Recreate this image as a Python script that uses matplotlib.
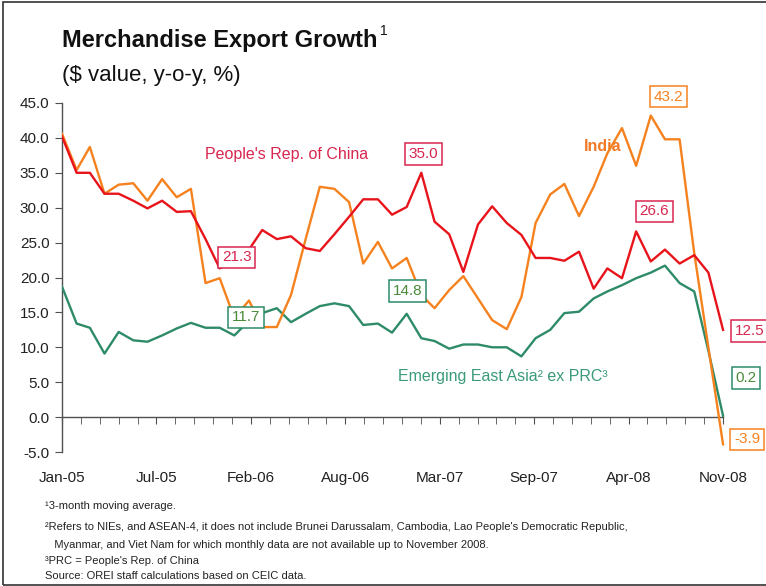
import numpy as np
import pandas as pd
import matplotlib
matplotlib.use('Agg')
import matplotlib.pyplot as plt
import matplotlib.dates as mdates
import matplotlib.ticker as mticker
from matplotlib import font_manager
from matplotlib.patches import Rectangle

names = set(f.name for f in font_manager.fontManager.ttflist)
narrow = 'Liberation Sans Narrow' if 'Liberation Sans Narrow' in names else 'Liberation Sans'
plt.rcParams['font.family'] = ['Liberation Sans', 'DejaVu Sans']
plt.rcParams['axes.unicode_minus'] = False

# monthly data, Jan-05 .. Nov-08 (3-month moving average, %)
months = pd.date_range('2005-01-01', periods=47, freq='MS')
china = [40.2, 35.0, 35.0, 32.0, 32.0, 31.0, 29.9, 31.0, 29.4, 29.5,
         25.5, 21.3, 22.5, 24.0, 26.8, 25.5, 25.9, 24.2, 23.8, 26.2,
         28.7, 31.2, 31.2, 29.0, 30.1, 35.0, 28.0, 26.2, 20.8, 27.6,
         30.2, 27.8, 26.1, 22.8, 22.8, 22.4, 23.7, 18.4, 21.3, 19.9,
         26.6, 22.3, 24.0, 22.0, 23.2, 20.7, 12.5]
india = [40.6, 35.4, 38.7, 32.0, 33.3, 33.5, 31.0, 34.1, 31.5, 32.7,
         19.2, 19.9, 14.2, 16.7, 12.9, 12.9, 17.5, 25.5, 33.0, 32.7,
         30.8, 22.0, 25.1, 21.3, 22.8, 17.5, 15.6, 18.2, 20.2, 17.0,
         13.9, 12.6, 17.2, 27.8, 31.9, 33.4, 28.8, 33.0, 37.8, 41.4,
         36.0, 43.2, 39.8, 39.8, 23.5, 10.0, -3.9]
eea = [18.7, 13.4, 12.8, 9.1, 12.2, 11.0, 10.8, 11.7, 12.7, 13.5,
       12.8, 12.8, 11.7, 13.8, 14.9, 15.6, 13.6, 14.8, 15.9, 16.3,
       15.9, 13.2, 13.4, 12.1, 14.8, 11.3, 10.9, 9.8, 10.4, 10.4,
       10.0, 10.0, 8.7, 11.3, 12.5, 14.9, 15.1, 17.0, 18.0, 18.9,
       19.9, 20.7, 21.7, 19.2, 18.0, 9.5, 0.2]

# labelled points: (month index, offset x, offset y in pixels)
china_labels = [(11, 17, 11), (25, 2, 19), (40, 18, 20), (46, 27, -1)]
india_labels = [(41, 18, 19), (46, 24, 5)]
eea_labels = [(12, 12, 18), (24, 1, 23), (46, 23, 38)]

c_red = '#E8141C'
c_org = '#F5821F'
c_grn = '#2E8B68'

fig = plt.figure(figsize=(7.66, 5.86), dpi=100)
ax = fig.add_axes([62/766, 1-452/586, 1-62/766, 349/586])

ax.plot(months, eea, color=c_grn, lw=1.7, zorder=3)
ax.plot(months, india, color=c_org, lw=1.7, zorder=4)
ax.plot(months, china, color=c_red, lw=1.7, zorder=5)

start = months[0]
ax.set_xlim(start, start + pd.Timedelta(days=1491))
ax.set_ylim(-5, 45)

ax.spines['top'].set_visible(False)
ax.spines['right'].set_visible(False)
ax.spines['bottom'].set_position(('data', 0))
ax.spines['bottom'].set_bounds(mdates.date2num(start), mdates.date2num(start + pd.Timedelta(days=1400)))
ax.spines['left'].set_bounds(-5, 45)
for s in ['bottom', 'left']:
    ax.spines[s].set_color('#505050')
    ax.spines[s].set_linewidth(1.0)

# date axis: labels every 200 days, tick marks every 40 days
major = [start + pd.Timedelta(days=200*k) for k in range(8)]
minor = [start + pd.Timedelta(days=40*k) for k in range(36)]
ax.set_xticks(major)
ax.set_xticks(minor, minor=True)
ax.xaxis.set_major_formatter(mdates.DateFormatter('%b-%y'))
ax.tick_params(axis='x', which='both', direction='out', length=5, color='#505050')
ax.tick_params(axis='x', which='major', pad=34, labelsize=11, labelcolor='#222222')
ax.set_yticks(np.arange(-5, 50, 5))
ax.yaxis.set_major_formatter(mticker.FormatStrFormatter('%.1f'))
ax.tick_params(axis='y', direction='out', length=5, color='#505050', labelsize=11, labelcolor='#222222', pad=4)

def box_label(series, items, tcol, ecol):
    for i, dx, dy in items:
        ax.annotate('%.1f' % series[i], xy=(months[i], series[i]), xytext=(dx, dy),
                    textcoords='offset pixels', ha='center', va='center', fontsize=11,
                    color=tcol, annotation_clip=False, zorder=6,
                    bbox=dict(boxstyle='square,pad=0.25', fc='white', ec=ecol, lw=1.1))

box_label(china, china_labels, '#D8264F', '#D8264F')
box_label(india, india_labels, c_org, c_org)
box_label(eea, eea_labels, '#4A8A3A', c_grn)

ax.text(0.203, 0.853, "People's Rep. of China", transform=ax.transAxes, color='#D8264F', fontsize=11.5, ha='left', va='center')
ax.text(0.768, 0.876, 'India', transform=ax.transAxes, color='#F07A28', fontsize=11.5, fontweight='bold', ha='center', va='center')
ax.text(0.477, 0.216, 'Emerging East Asia² ex PRC³', transform=ax.transAxes, color='#3A9A7A', fontsize=11.5, ha='left', va='center')

# titles
fig.text(62/766, 1-40/586, 'Merchandise Export Growth', fontsize=17, fontweight='bold', va='center', color='#111111')
fig.text(380/766, 1-31/586, '1', fontsize=10, va='center', color='#111111')
fig.text(62/766, 1-76/586, '($ value, y-o-y, %)', fontsize=16, va='center', color='#111111')

notes = ['¹3-month moving average.',
         '²Refers to NIEs, and ASEAN-4, it does not include Brunei Darussalam, Cambodia, Lao People\'s Democratic Republic,',
         '   Myanmar, and Viet Nam for which monthly data are not available up to November 2008.',
         '³PRC = People\'s Rep. of China',
         'Source: OREI staff calculations based on CEIC data.']
note_y = [506, 527, 545, 561, 576]
for t, y in zip(notes, note_y):
    fig.text(45/766, 1-y/586, t, fontsize=8, family=narrow, va='center', color='#222222')

fig.patches.append(Rectangle((3/766, 1/586), 1.2, 1-3/586, transform=fig.transFigure,
                             fill=False, ec='#333333', lw=1.2))

fig.savefig('out.png', dpi=100)
